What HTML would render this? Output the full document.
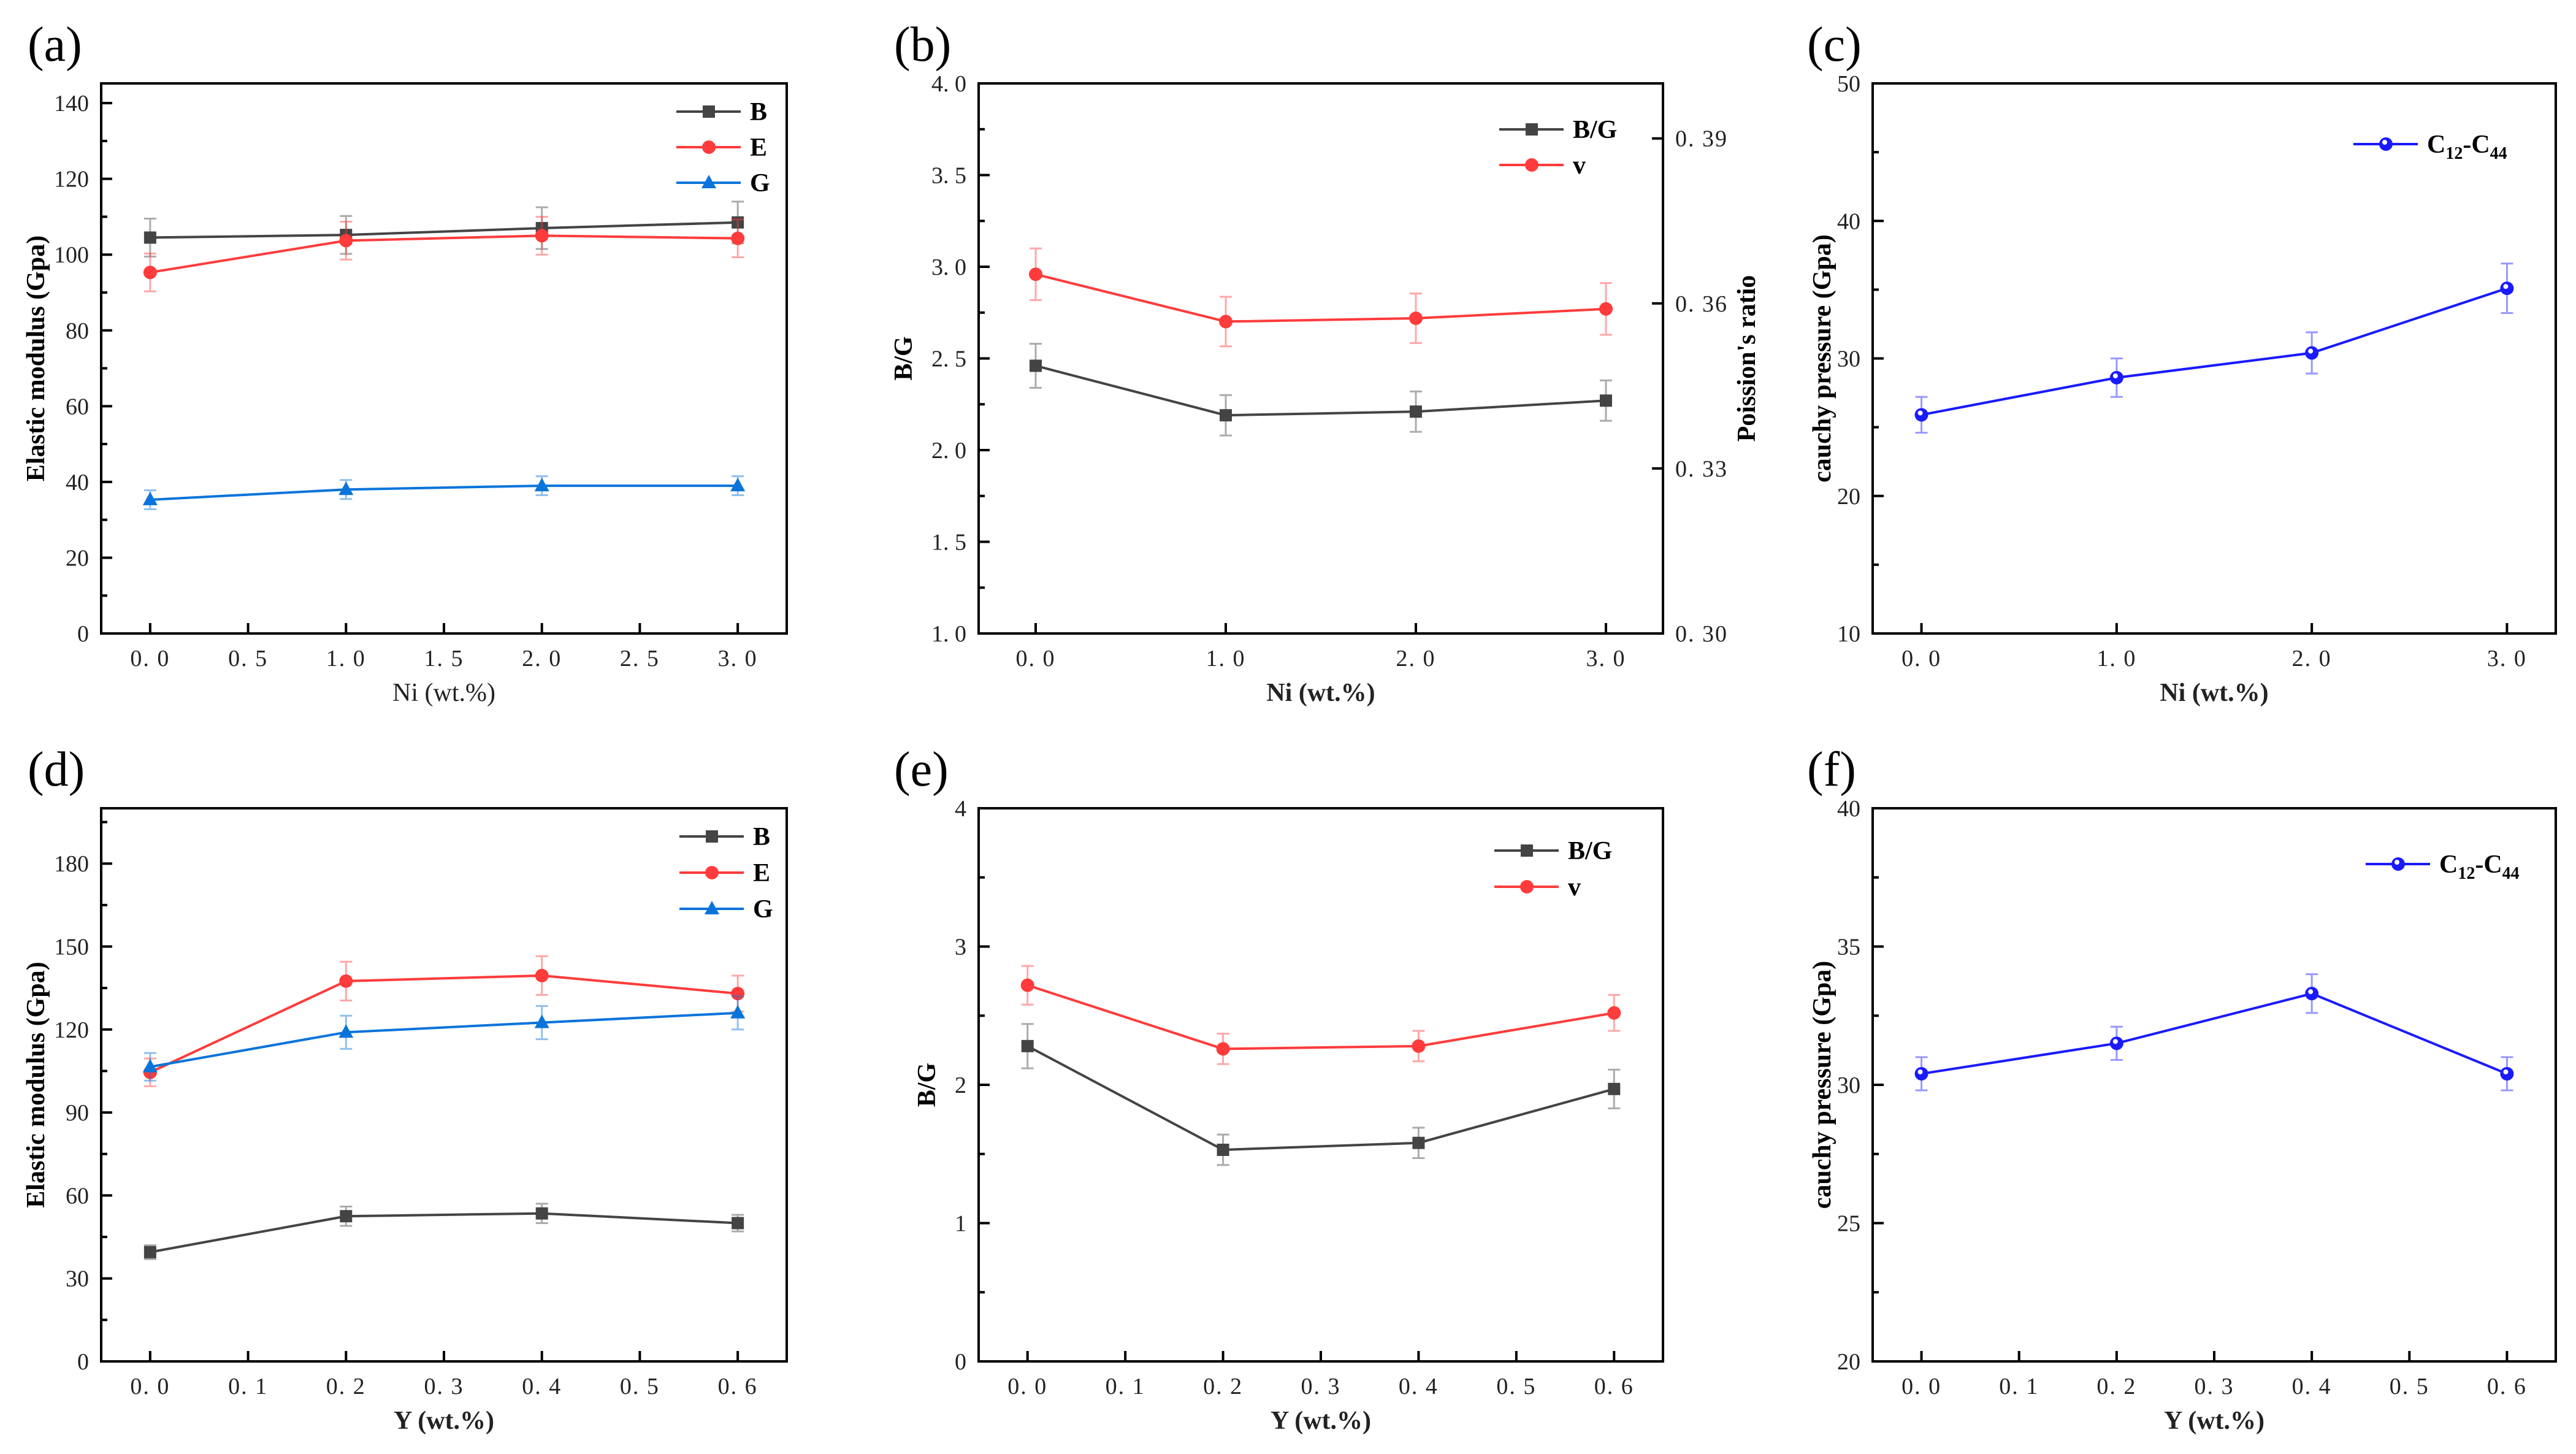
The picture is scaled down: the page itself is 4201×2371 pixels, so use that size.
<!DOCTYPE html>
<html><head><meta charset="utf-8"><title>Elastic properties</title>
<style>
html,body{margin:0;padding:0;background:#fff;}
svg{display:block;}
text{font-family:"Liberation Serif",serif;}
</style></head>
<body>
<svg id="fig" width="4201" height="2371" viewBox="0 0 4201 2371" xmlns="http://www.w3.org/2000/svg"></svg>
<script>
// ---- data ----
const niX = [0, 1, 2, 3];
const yX = [0, 0.2, 0.4, 0.6];
const aB = [104.5, 105.2, 107, 108.5];
const aBerr = [5, 5, 5.5, 5.5];
const aE = [95.3, 103.7, 105, 104.3];
const aEerr = [5, 5, 5, 5];
const aG = [35.3, 38, 39, 39];
const aGerr = [2.5, 2.5, 2.5, 2.5];
const bBG = [2.46, 2.19, 2.21, 2.27];
const bBGerr = [0.12, 0.11, 0.11, 0.11];
const bV = [0.3653, 0.3567, 0.3573, 0.359];
const bVerr = [0.0047, 0.0045, 0.0045, 0.0047];
const cC = [25.9, 28.6, 30.4, 35.1];
const cCerr = [1.3, 1.4, 1.5, 1.8];
const dB = [39.5, 52.5, 53.5, 50];
const dBerr = [2.5, 3.5, 3.5, 3];
const dE = [104.5, 137.5, 139.5, 133];
const dEerr = [5, 7, 7, 6.5];
const dG = [106.5, 119, 122.5, 126];
const dGerr = [5, 6, 6, 6];
const eBG = [2.28, 1.53, 1.58, 1.97];
const eBGerr = [0.16, 0.11, 0.11, 0.14];
const eV = [2.72, 2.26, 2.28, 2.52];
const eVerr = [0.14, 0.11, 0.11, 0.13];
const fC = [30.4, 31.5, 33.3, 30.4];
const fCerr = [0.6, 0.6, 0.7, 0.6];
const niTicks = ["0. 0","0. 5","1. 0","1. 5","2. 0","2. 5","3. 0"];
const niTicksInt = ["0. 0","1. 0","2. 0","3. 0"];
const yTicks = ["0. 0","0. 1","0. 2","0. 3","0. 4","0. 5","0. 6"];

const NS = "http://www.w3.org/2000/svg";
const svg = document.getElementById('fig');
function el(tag, attrs, parent, txt) {
  const e = document.createElementNS(NS, tag);
  for (const k in attrs) e.setAttribute(k, attrs[k]);
  if (txt !== undefined) e.textContent = txt;
  (parent || svg).appendChild(e);
  return e;
}
const GREY = '#444', RED = '#ff3b3b', BLUE = '#0a74da', VIOLET = '#1a1aff';

function marker(g, kind, x, y, color) {
  let m;
  if (kind === 'sq') m = el('rect', {x: x-10, y: y-10, width: 20, height: 20, fill: color}, g);
  else if (kind === 'ci') m = el('circle', {cx: x, cy: y, r: 11, fill: color}, g);
  else if (kind === 'tri') m = el('polygon', {points: `${x},${y-13} ${x-12},${y+9} ${x+12},${y+9}`, fill: color}, g);
  else {
    m = el('circle', {cx: x, cy: y, r: 11, fill: color}, g);
    const h = el('circle', {cx: x-2, cy: y-3, r: 4, fill: '#fff'}, g);
    
    
  }
  
  
}

function panel(c) {
  const g = el('g', {});
  
  
  const X = v => c.L + (v - c.xmin) / (c.xmax - c.xmin) * (c.R - c.L);
  const Y = v => c.B - (v - c.ymin) / (c.ymax - c.ymin) * (c.B - c.T);
  const fr = el('rect', {x: c.L, y: c.T, width: c.R - c.L, height: c.B - c.T, fill: 'none', stroke: '#000', 'stroke-width': 4}, g);
  
  
  for (let i = 0; i < c.yticks.length; i++) {
    const v = c.yticks[i], py = Y(v);
    const t = el('line', {x1: c.L, x2: c.L + 18, y1: py, y2: py, stroke: '#000', 'stroke-width': 4}, g);
    
    
    const lb = el('text', {x: c.L - 20, y: py + 13, 'text-anchor': 'end', 'font-size': 38, fill: '#222'}, g, c.ylabels[i]);
    
    
  }
  for (const v of c.yminor) {
    const t = el('line', {x1: c.L, x2: c.L + 10, y1: Y(v), y2: Y(v), stroke: '#000', 'stroke-width': 4}, g);
    
    
  }
  for (let i = 0; i < c.xticks.length; i++) {
    const px = X(c.xticks[i]);
    const t = el('line', {x1: px, x2: px, y1: c.B, y2: c.B - 17, stroke: '#000', 'stroke-width': 4}, g);
    
    
    const lb = el('text', {x: px, y: c.B + 53, 'text-anchor': 'middle', 'font-size': 38, fill: '#222', 'letter-spacing': 2}, g, c.xlabels[i]);
    
    
  }
  if (c.right) {
    const r = c.right;
    const RY = v => c.B - (v - r.min) / (r.max - r.min) * (c.B - c.T);
    for (let i = 0; i < r.ticks.length; i++) {
      const py = RY(r.ticks[i]);
      const t = el('line', {x1: c.R, x2: c.R - 18, y1: py, y2: py, stroke: '#000', 'stroke-width': 4}, g);
      
      
      const lb = el('text', {x: c.R + 20, y: py + 13, 'font-size': 38, fill: '#222', 'letter-spacing': 2}, g, r.labels[i]);
      
      
    }
    const tt = el('text', {x: 0, y: 0, transform: `translate(${c.R + 150},${(c.T + c.B) / 2}) rotate(-90)`, 'text-anchor': 'middle', 'font-size': 42, 'font-weight': 'bold'}, g, r.title);
    
    
  }
  const yt = el('text', {x: 0, y: 0, transform: `translate(${c.ytx},${(c.T + c.B) / 2}) rotate(-90)`, 'text-anchor': 'middle', 'font-size': 42, 'font-weight': 'bold'}, g, c.ytitle);
  
  
  const xt = el('text', {x: (c.L + c.R) / 2, y: c.B + 110, 'text-anchor': 'middle', 'font-size': 42, 'font-weight': c.xbold ? 'bold' : 'normal', fill: '#222'}, g, c.xtitle);
  
  
  const pl = el('text', {x: c.plx, y: c.T - 37, 'font-size': 80}, g, c.label);
  
  
  c.series.forEach((s, si) => {
    const sg = el('g', {}, g);
    
    
    const Ys = s.right ? (v => c.B - (v - c.right.min) / (c.right.max - c.right.min) * (c.B - c.T)) : Y;
    for (let i = 0; i < s.y.length; i++) {
      const px = X(s.x[i]), y1 = Ys(s.y[i] + s.err[i]), y2 = Ys(s.y[i] - s.err[i]);
      const eb = el('path', {d: `M${px},${y1}V${y2}M${px-10},${y1}H${px+10}M${px-10},${y2}H${px+10}`, stroke: s.color, 'stroke-opacity': 0.45, 'stroke-width': 3, fill: 'none'}, sg);
      
      
    }
    const pts = s.y.map((v, i) => X(s.x[i]) + ',' + Ys(v)).join(' ');
    const ln = el('polyline', {points: pts, fill: 'none', stroke: s.color, 'stroke-width': 4}, sg);
    
    
    s.y.forEach((v, i) => marker(sg, s.mk, X(s.x[i]), Ys(v), s.color));
    const lg = el('g', {}, g);
    
    
    const ly = c.legY + si * c.legDy;
    el('line', {x1: c.legX, x2: c.legX + 105, y1: ly, y2: ly, stroke: s.color, 'stroke-width': 4}, lg);
    marker(lg, s.mk, c.legX + 53, ly, s.color);
    if (s.sub) {
      const t = el('text', {x: c.legX + 120, y: ly + 14, 'font-size': 42, 'font-weight': 'bold'}, lg);
      el('tspan', {}, t, 'C');
      el('tspan', {'font-size': 28, dy: 10}, t, '12');
      el('tspan', {dy: -10}, t, '-C');
      el('tspan', {'font-size': 28, dy: 10}, t, '44');
    } else {
      el('text', {x: c.legX + 120, y: ly + 14, 'font-size': 42, 'font-weight': 'bold'}, lg, s.name);
    }
  });
}

const rowTop = {T: 136, B: 1033}, rowBot = {T: 1318, B: 2220};
const colA = {L: 165, R: 1283, plx: 45, ytx: 72};
const colB = {L: 1596, R: 2712, plx: 1458};
const colC = {L: 3054, R: 4168, plx: 2947, ytx: 2985};

panel(Object.assign({name: 'panel-a', label: '(a)', xmin: -0.25, xmax: 3.25, ymin: 0, ymax: 145.2,
  yticks: [0,20,40,60,80,100,120,140], ylabels: ['0','20','40','60','80','100','120','140'], yminor: [10,30,50,70,90,110,130],
  xticks: [0,0.5,1,1.5,2,2.5,3], xlabels: niTicks, ytitle: 'Elastic modulus (Gpa)', xtitle: 'Ni  (wt.%)', xbold: false,
  legX: 1103, legY: 182, legDy: 58,
  series: [{name:'B', x:niX, y:aB, err:aBerr, color:GREY, mk:'sq'}, {name:'E', x:niX, y:aE, err:aEerr, color:RED, mk:'ci'}, {name:'G', x:niX, y:aG, err:aGerr, color:BLUE, mk:'tri'}]}, rowTop, colA));

panel(Object.assign({name: 'panel-b', label: '(b)', xmin: -0.3, xmax: 3.3, ymin: 1, ymax: 4,
  yticks: [1,1.5,2,2.5,3,3.5,4], ylabels: ['1. 0','1. 5','2. 0','2. 5','3. 0','3. 5','4. 0'], yminor: [1.25,1.75,2.25,2.75,3.25,3.75],
  xticks: [0,1,2,3], xlabels: niTicksInt, ytitle: 'B/G', ytx: 1487, xtitle: 'Ni (wt.%)', xbold: true,
  right: {min: 0.30, max: 0.40, ticks: [0.30,0.33,0.36,0.39], labels: ['0. 30','0. 33','0. 36','0. 39'], title: "Poission's ratio"},
  legX: 2445, legY: 211, legDy: 58,
  series: [{name:'B/G', x:niX, y:bBG, err:bBGerr, color:GREY, mk:'sq'}, {name:'v', x:niX, y:bV, err:bVerr, color:RED, mk:'ci', right:true}]}, rowTop, colB));

panel(Object.assign({name: 'panel-c', label: '(c)', xmin: -0.25, xmax: 3.25, ymin: 10, ymax: 50,
  yticks: [10,20,30,40,50], ylabels: ['10','20','30','40','50'], yminor: [15,25,35,45],
  xticks: [0,1,2,3], xlabels: niTicksInt, ytitle: 'cauchy pressure (Gpa)', xtitle: 'Ni (wt.%)', xbold: true,
  legX: 3838, legY: 235, legDy: 58,
  series: [{name:'C12-C44', sub:true, x:niX, y:cC, err:cCerr, color:VIOLET, mk:'ball'}]}, rowTop, colC));

panel(Object.assign({name: 'panel-d', label: '(d)', xmin: -0.05, xmax: 0.65, ymin: 0, ymax: 200,
  yticks: [0,30,60,90,120,150,180], ylabels: ['0','30','60','90','120','150','180'], yminor: [15,45,75,105,135,165,195],
  xticks: [0,0.1,0.2,0.3,0.4,0.5,0.6], xlabels: yTicks, ytitle: 'Elastic modulus (Gpa)', xtitle: 'Y (wt.%)', xbold: true,
  legX: 1108, legY: 1364, legDy: 59,
  series: [{name:'B', x:yX, y:dB, err:dBerr, color:GREY, mk:'sq'}, {name:'E', x:yX, y:dE, err:dEerr, color:RED, mk:'ci'}, {name:'G', x:yX, y:dG, err:dGerr, color:BLUE, mk:'tri'}]}, rowBot, colA));

panel(Object.assign({name: 'panel-e', label: '(e)', xmin: -0.05, xmax: 0.65, ymin: 0, ymax: 4,
  yticks: [0,1,2,3,4], ylabels: ['0','1','2','3','4'], yminor: [0.5,1.5,2.5,3.5],
  xticks: [0,0.1,0.2,0.3,0.4,0.5,0.6], xlabels: yTicks, ytitle: 'B/G', ytx: 1525, xtitle: 'Y (wt.%)', xbold: true,
  legX: 2437, legY: 1387, legDy: 59,
  series: [{name:'B/G', x:yX, y:eBG, err:eBGerr, color:GREY, mk:'sq'}, {name:'v', x:yX, y:eV, err:eVerr, color:RED, mk:'ci'}]}, rowBot, colB));

panel(Object.assign({name: 'panel-f', label: '(f)', xmin: -0.05, xmax: 0.65, ymin: 20, ymax: 40,
  yticks: [20,25,30,35,40], ylabels: ['20','25','30','35','40'], yminor: [22.5,27.5,32.5,37.5],
  xticks: [0,0.1,0.2,0.3,0.4,0.5,0.6], xlabels: yTicks, ytitle: 'cauchy pressure (Gpa)', xtitle: 'Y (wt.%)', xbold: true,
  legX: 3858, legY: 1409, legDy: 58,
  series: [{name:'C12-C44', sub:true, x:yX, y:fC, err:fCerr, color:VIOLET, mk:'ball'}]}, rowBot, colC));
</script>
</body></html>
